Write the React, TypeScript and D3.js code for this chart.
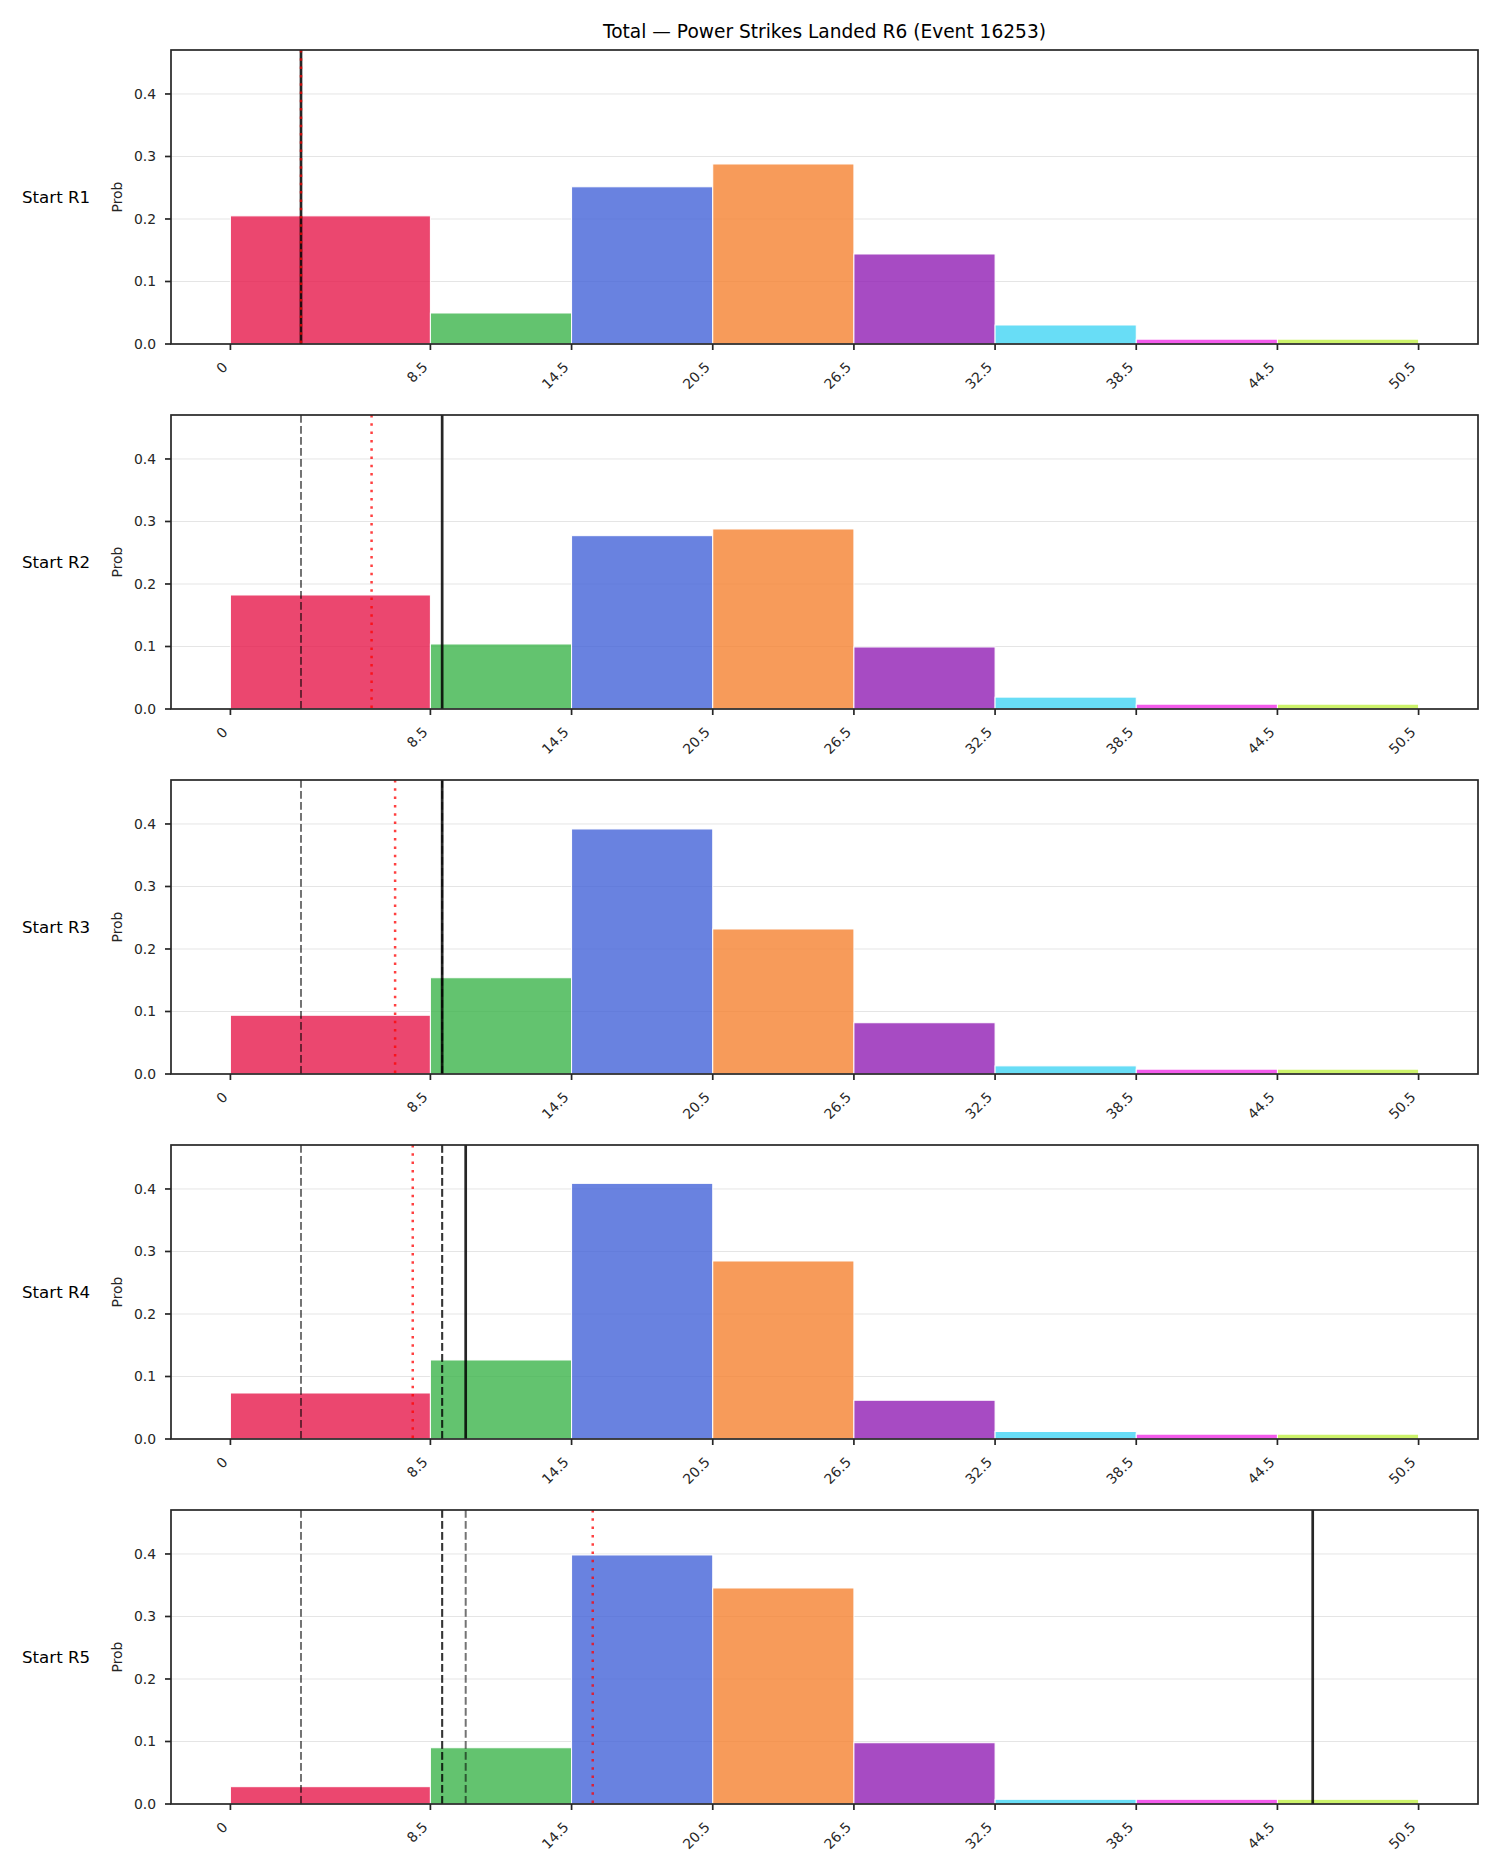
import React from 'react';
import * as d3 from 'd3';

// ---- data ----
const TITLE = 'Total — Power Strikes Landed R6 (Event 16253)';
const rowLabels = ['Start R1', 'Start R2', 'Start R3', 'Start R4', 'Start R5'];
const binEdges = [0, 8.5, 14.5, 20.5, 26.5, 32.5, 38.5, 44.5, 50.5];
const tickLabels = ['0', '8.5', '14.5', '20.5', '26.5', '32.5', '38.5', '44.5', '50.5'];
const binColors = ['#e6194b', '#3cb44b', '#4363d8', '#f58231', '#911eb4', '#42d4f4', '#f032e6', '#bfef45'];

const probR1 = [0.205, 0.0496, 0.2515, 0.288, 0.144, 0.0304, 0.0077, 0.0077];
const probR2 = [0.1824, 0.104, 0.2773, 0.288, 0.0992, 0.019, 0.0077, 0.0077];
const probR3 = [0.094, 0.154, 0.392, 0.232, 0.082, 0.013, 0.0077, 0.0077];
const probR4 = [0.0736, 0.1264, 0.409, 0.2848, 0.062, 0.012, 0.0077, 0.0077];
const probR5 = [0.0277, 0.09, 0.3984, 0.3456, 0.098, 0.0075, 0.0075, 0.0075];
const probRows = [probR1, probR2, probR3, probR4, probR5];

// strikes landed at each round start (solid line = current, dashed = earlier rounds)
const roundTotals = [3, 9, 9, 10, 46];
// running average of the round totals (red dotted)
const runningMean = [3, 6, 7, 7.75, 15.4];

const yTicks = [0, 0.1, 0.2, 0.3, 0.4];

// ---- layout ----
const W = 1500;
const H = 1875;
const AX_LEFT = 171;
const AX_RIGHT = 1478;
const AX_TOP = 50;
const AX_H = 294;
const ROW_STEP = 365;
const FONT = 'DejaVu Sans, sans-serif';

const xMin = d3.min(binEdges) as number;
const xMaxV = d3.max(binEdges) as number;
const xPad = 0.05 * (xMaxV - xMin);
const x = d3.scaleLinear().domain([xMin - xPad, xMaxV + xPad]).range([AX_LEFT, AX_RIGHT]);
const yMax = (d3.max(probRows.flat()) as number) * 1.15;

function Panel({ row }: { row: number }) {
  const top = AX_TOP + row * ROW_STEP;
  const bottom = top + AX_H;
  const y = d3.scaleLinear().domain([0, yMax]).range([bottom, top]);
  const probs = probRows[row];
  const prev = roundTotals.slice(0, row);
  const cur = roundTotals[row];
  const mean = runningMean[row];
  const mid = (top + bottom) / 2;
  return (
    <g>
      {/* horizontal grid */}
      {yTicks.slice(1).map((t) => (
        <line key={'g' + t} x1={AX_LEFT} x2={AX_RIGHT} y1={y(t)} y2={y(t)} stroke="#e5e5e5" strokeWidth={1} />
      ))}
      {/* histogram bars */}
      {probs.map((p, i) => (
        <rect
          key={'b' + i}
          x={x(binEdges[i])}
          y={y(p)}
          width={x(binEdges[i + 1]) - x(binEdges[i])}
          height={y(0) - y(p)}
          fill={binColors[i]}
          fillOpacity={0.8}
          stroke="#ffffff"
          strokeWidth={1}
        />
      ))}
      {/* earlier rounds */}
      {prev.map((v, i) => (
        <line key={'p' + i} x1={x(v)} x2={x(v)} y1={top} y2={bottom} stroke="#000" strokeOpacity={0.55} strokeWidth={2} strokeDasharray="7.7 3.3" />
      ))}
      {/* current round */}
      <line x1={x(cur)} x2={x(cur)} y1={top} y2={bottom} stroke="#000" strokeOpacity={0.85} strokeWidth={2.7} />
      {/* running mean */}
      <line x1={x(mean)} x2={x(mean)} y1={top} y2={bottom} stroke="#ff0000" strokeOpacity={0.75} strokeWidth={2.5} strokeDasharray="2.5 5.8" />

      {/* y ticks */}
      {yTicks.map((t) => (
        <g key={'yt' + t}>
          <line x1={AX_LEFT - 6} x2={AX_LEFT} y1={y(t)} y2={y(t)} stroke="#262626" strokeWidth={1.7} />
          <text x={156} y={y(t)} dy="0.35em" textAnchor="end" fontSize={13.9} fontFamily={FONT} fill="#262626">
            {t.toFixed(1)}
          </text>
        </g>
      ))}
      {/* x ticks */}
      {binEdges.map((e, i) => (
        <g key={'xt' + i}>
          <line x1={x(e)} x2={x(e)} y1={bottom} y2={bottom + 6} stroke="#262626" strokeWidth={1.7} />
          <text
            transform={`translate(${x(e) - 2},${bottom + 24}) rotate(-45)`}
            textAnchor="end"
            fontSize={13.9}
            fontFamily={FONT}
            fill="#262626"
          >
            {tickLabels[i]}
          </text>
        </g>
      ))}
      {/* frame */}
      <rect x={AX_LEFT} y={top} width={AX_RIGHT - AX_LEFT} height={AX_H} fill="none" stroke="#262626" strokeWidth={1.7} />

      {/* labels */}
      <text transform={`translate(122,${mid}) rotate(-90)`} textAnchor="middle" fontSize={13.9} fontFamily={FONT} fill="#262626">
        Prob
      </text>
      <text x={22} y={mid} dy="0.35em" fontSize={16.67} fontFamily={FONT} fill="#000">
        {rowLabels[row]}
      </text>
    </g>
  );
}

export default function App() {
  return (
    <svg
      width={W}
      height={H}
      viewBox={`0 0 ${W} ${H}`}
      style={{ position: 'absolute', left: 0, top: 0, display: 'block', background: '#fff' }}
    >
      <rect x={0} y={0} width={W} height={H} fill="#fff" />
      <text x={(AX_LEFT + AX_RIGHT) / 2} y={37.5} textAnchor="middle" fontSize={18.6} fontFamily={FONT} fill="#000">
        {TITLE}
      </text>
      {rowLabels.map((_, i) => (
        <Panel key={i} row={i} />
      ))}
    </svg>
  );
}
